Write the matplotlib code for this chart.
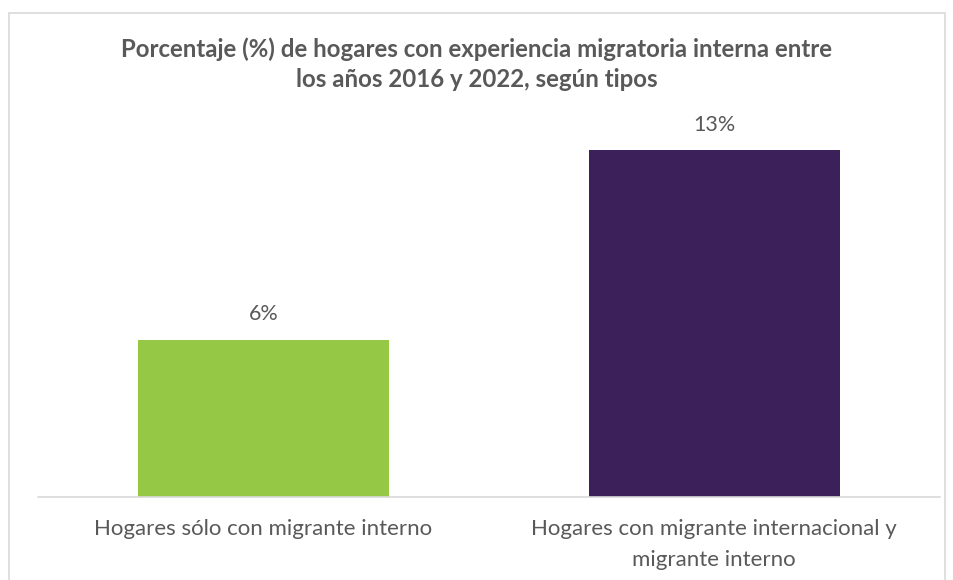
import matplotlib.pyplot as plt
from matplotlib.patches import Rectangle

categories = [
    "Hogares sólo con migrante interno",
    "Hogares con migrante internacional y\nmigrante interno",
]
values = [5.9, 13.0]
value_labels = ["6%", "13%"]
colors = ["#95C844", "#3C2059"]

TEXT = "#595959"
plt.rcParams["font.family"] = ["Lato", "DejaVu Sans"]

fig = plt.figure(figsize=(9.54, 5.8), dpi=100)
ax = fig.add_axes([0.040, 0.143, 0.945, 0.690])

bars = ax.bar(range(len(values)), values, width=0.556, color=colors)
for bar, lab in zip(bars, value_labels):
    ax.annotate(lab, (bar.get_x() + bar.get_width() / 2, bar.get_height()),
                xytext=(0, 11), textcoords="offset points",
                ha="center", va="bottom", fontsize=15.5, color=TEXT)

ax.set_xlim(-0.5, 1.5)
ax.set_ylim(0, 15)
ax.set_xticks(range(len(categories)))
ax.set_xticklabels(categories, fontsize=16, color=TEXT, linespacing=1.7)
ax.tick_params(axis="x", length=0, pad=16)
ax.set_yticks([])
for side in ["top", "right", "left"]:
    ax.spines[side].set_visible(False)
ax.spines["bottom"].set_color("#D9D9D9")
ax.spines["bottom"].set_linewidth(1.2)

fig.text(0.5, 0.889,
         "Porcentaje (%) de hogares con experiencia migratoria interna entre\n"
         "los años 2016 y 2022, según tipos",
         ha="center", va="center", fontsize=17.3, fontweight="bold",
         color=TEXT, linespacing=1.4)

# light border around the chart area
fig.patches.append(Rectangle((9 / 954, -0.05), (945 - 9) / 954, 1.05 - 13 / 580,
                             transform=fig.transFigure, fill=False,
                             edgecolor="#D9D9D9", linewidth=1.2))

fig.savefig("out.png", dpi=100)
